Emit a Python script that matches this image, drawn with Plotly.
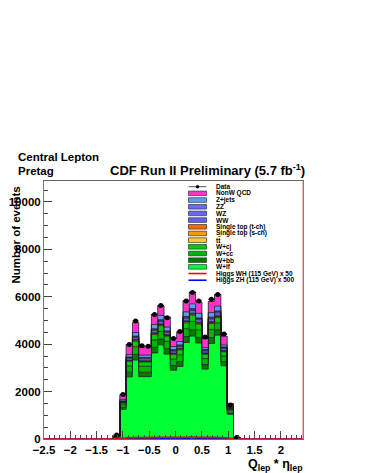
import numpy as np
import plotly.graph_objects as go

# binning of the histogram: 41 bins of 0.12 from -2.5
bin_lo = -2.5
bin_w = 0.12
n_bins = 41
first_bin = 11  # first filled bin (-1.18 .. -1.06)

# per-bin contents for the 20 filled bins (-1.18 .. 1.22)
data = [168, 1880, 3985, 4980, 3930, 3916, 5255, 5635, 5110, 4240,
        4530, 5824, 6180, 5824, 4300, 5890, 6090, 4430, 1430, 60]
w_lf = [80, 1250, 2620, 3330, 2630, 2630, 3630, 3970, 3580, 2900,
        3060, 4070, 4340, 4050, 2950, 4030, 4380, 3090, 1040, 50]
w_bb = [7, 80, 200, 240, 185, 185, 235, 245, 230, 200,
        210, 250, 265, 235, 190, 250, 220, 175, 65, 4]
w_cc = [9, 110, 265, 320, 250, 250, 310, 325, 305, 270,
        280, 330, 350, 320, 250, 335, 300, 235, 90, 5]
w_cj = [7, 80, 195, 240, 185, 185, 235, 240, 225, 200,
        210, 250, 265, 235, 190, 255, 220, 180, 65, 4]
ttbar = [1, 10, 20, 35, 25, 25, 35, 35, 30, 25,
         30, 40, 40, 40, 25, 40, 40, 25, 10, 1]
stop_s = [0, 4, 8, 14, 10, 10, 14, 14, 12, 10,
          12, 16, 16, 16, 10, 16, 16, 10, 4, 0]
stop_t = [1, 6, 12, 21, 15, 15, 21, 21, 18, 15,
          18, 24, 24, 24, 15, 24, 24, 15, 6, 0]
ww = [3, 42, 84, 84, 84, 84, 102, 108, 96, 90,
      90, 114, 120, 114, 84, 114, 120, 90, 30, 2]
wz = [1, 18, 35, 35, 35, 35, 43, 45, 40, 38,
      38, 48, 50, 48, 35, 48, 50, 38, 13, 1]
zz = [1, 10, 21, 21, 21, 21, 25, 27, 24, 22,
      22, 28, 30, 28, 21, 28, 30, 22, 7, 0]
z_jets = [5, 60, 100, 150, 100, 100, 180, 185, 160, 130,
          140, 190, 200, 190, 80, 190, 200, 90, 40, 3]
qcd = [15, 180, 420, 420, 350, 350, 420, 400, 430, 380,
       390, 470, 500, 480, 380, 470, 500, 365, 130, 10]
higgs_wh = [5, 30, 50, 60, 60, 60, 70, 75, 75, 70,
            70, 75, 80, 75, 70, 70, 65, 55, 25, 5]
higgs_zh = [2, 15, 25, 30, 30, 30, 35, 38, 38, 35,
            35, 38, 40, 38, 35, 35, 32, 28, 12, 2]

# stack order, bottom to top
stack = [
    ("W+lf", w_lf, "#00ff33"),
    ("W+bb", w_bb, "#007a00"),
    ("W+cc", w_cc, "#00b400"),
    ("W+cj", w_cj, "#00cc00"),
    ("tt\u0304", ttbar, "#ffcc33"),
    ("Single top (s-ch)", stop_s, "#ff9900"),
    ("Single top (t-ch)", stop_t, "#ff6600"),
    ("WW", ww, "#6262f0"),
    ("WZ", wz, "#6666ff"),
    ("ZZ", zz, "#6a6aff"),
    ("Z+jets", z_jets, "#6699ff"),
    ("NonW QCD", qcd, "#ff33cc"),
]

edges = np.round(bin_lo + bin_w * np.arange(n_bins + 1), 2)
n_fill = len(data)
centers = edges[first_bin:first_bin + n_fill] + bin_w / 2
step_x = np.concatenate([[edges[first_bin]], edges[first_bin:first_bin + n_fill + 1]])

FONT = "Liberation Sans"

fig = go.Figure()

cum = np.zeros(n_fill)
for i, (name, vals, col) in enumerate(stack):
    cum = cum + np.array(vals)
    fig.add_trace(go.Scatter(
        x=step_x, y=np.concatenate([[0], cum, [0]]),
        mode="lines", line=dict(shape="hv", color="#1a1a1a", width=0.8),
        fill="tozeroy" if i == 0 else "tonexty", fillcolor=col,
        name=name, showlegend=False, hoverinfo="skip"))

# signal lines span the whole axis
for vals, col in [(higgs_zh, "#0000ff"), (higgs_wh, "#ff0000")]:
    full = np.zeros(n_bins)
    full[first_bin:first_bin + n_fill] = vals
    fig.add_trace(go.Scatter(
        x=edges, y=np.concatenate([full, [full[-1]]]),
        mode="lines", line=dict(shape="hv", color=col, width=1.6),
        showlegend=False, hoverinfo="skip"))

fig.add_trace(go.Scatter(
    x=centers, y=data, mode="markers",
    marker=dict(color="black", size=5),
    error_y=dict(type="sqrt", color="black", thickness=1, width=0),
    error_x=dict(type="constant", value=bin_w / 2, color="black", thickness=1, width=0),
    showlegend=False, hoverinfo="skip"))

tickfont = dict(family=FONT, size=11.5, color="black", weight="bold")
fig.update_xaxes(range=[bin_lo, edges[-1]], tick0=0, dtick=0.5, ticks="inside",
                 ticklen=8, tickcolor="#444", tickfont=tickfont, automargin=False,
                 minor=dict(dtick=0.1, ticks="inside", ticklen=4, tickcolor="#444"),
                 showline=True, linecolor="#666", linewidth=1, mirror=True,
                 showgrid=False, zeroline=False)
fig.update_yaxes(range=[0, 10880], tick0=0, dtick=2000, tickformat="d", ticks="inside",
                 ticklen=8, tickcolor="#444", tickfont=tickfont, automargin=False,
                 minor=dict(dtick=500, ticks="inside", ticklen=4, tickcolor="#444"),
                 showline=True, linecolor="#777", linewidth=1, mirror=True,
                 showgrid=False, zeroline=False)

# page body keeps an 8px margin, so the figure is 8px smaller and shifted
OFF = 8
W, H = 365 - OFF, 473 - OFF
L, R, T, B = 44, 303, 181, 439  # plot frame in window pixels


def px_x(px):
    return (px - L) / (R - L)


def px_y(py):
    return (B - py) / (B - T)


annots = [
    dict(text="CDF Run II Preliminary (5.7 fb<sup>-1</sup>)", x=px_x(207), y=px_y(170),
         xanchor="center", yanchor="middle", font=dict(size=13)),
    dict(text="Central Lepton", x=px_x(16), y=px_y(157), xanchor="left",
         yanchor="middle", font=dict(size=11.5)),
    dict(text="Pretag", x=px_x(16), y=px_y(171), xanchor="left",
         yanchor="middle", font=dict(size=11.5)),
    dict(text="Number of events", x=px_x(15.5), y=px_y(235), textangle=-90,
         xanchor="center", yanchor="middle", font=dict(size=11.5)),
    dict(text="Q<sub>lep</sub> * \u03b7<sub>lep</sub>", x=px_x(305), y=px_y(465),
         xanchor="right", yanchor="middle", font=dict(size=12.5)),
]

# hand-made legend
legend_rows = [("Data", None, "data"),
               ("NonW QCD", "#ff33cc", "box"),
               ("Z+jets", "#6699ff", "box"),
               ("ZZ", "#6a6aff", "box"),
               ("WZ", "#6666ff", "box"),
               ("WW", "#6262f0", "box"),
               ("Single top (t-ch)", "#ff6600", "box"),
               ("Single top (s-ch)", "#ff9900", "box"),
               ("tt\u0304", "#ffcc33", "box"),
               ("W+cj", "#00cc00", "box"),
               ("W+cc", "#00b400", "box"),
               ("W+bb", "#007a00", "box"),
               ("W+lf", "#00ff33", "box"),
               ("Higgs WH (115 GeV) x 50", "#ff0000", "line"),
               ("Higgs ZH (115 GeV) x 500", "#0000ff", "line")]
shapes = []
for i, (label, col, kind) in enumerate(legend_rows):
    yc = 186.7 + i * 6.68
    if kind == "box":
        shapes.append(dict(type="rect", xref="paper", yref="paper",
                           x0=px_x(188.5), x1=px_x(206.5), y0=px_y(yc + 2.3), y1=px_y(yc - 2.3),
                           fillcolor=col, line=dict(color="#333", width=0.7)))
    elif kind == "line":
        shapes.append(dict(type="line", xref="paper", yref="paper",
                           x0=px_x(188.5), x1=px_x(206.5), y0=px_y(yc), y1=px_y(yc),
                           line=dict(color=col, width=1.6)))
    else:
        shapes.append(dict(type="line", xref="paper", yref="paper",
                           x0=px_x(188.5), x1=px_x(206.5), y0=px_y(yc), y1=px_y(yc),
                           line=dict(color="#555", width=1)))
        shapes.append(dict(type="circle", xref="paper", yref="paper",
                           x0=px_x(196), x1=px_x(199), y0=px_y(yc + 1.5), y1=px_y(yc - 1.5),
                           fillcolor="black", line=dict(color="black", width=0.5)))
    annots.append(dict(text=label, x=px_x(213.5), y=px_y(yc), xanchor="left",
                       yanchor="middle", font=dict(size=6.5)))

# reddish right frame edge
shapes.append(dict(type="line", xref="paper", yref="paper", x0=1, x1=1, y0=0, y1=1,
                   line=dict(color="#e07070", width=1)))

for a in annots:
    a.update(xref="paper", yref="paper", showarrow=False)
    a["font"].update(family=FONT, color="black", weight="bold")

fig.update_layout(width=W, height=H, autosize=False,
                  margin=dict(l=L - OFF, r=365 - R, t=T - OFF, b=473 - B, pad=0),
                  plot_bgcolor="white", paper_bgcolor="white",
                  annotations=annots, shapes=shapes, showlegend=False)

fig.write_html("out.html")
